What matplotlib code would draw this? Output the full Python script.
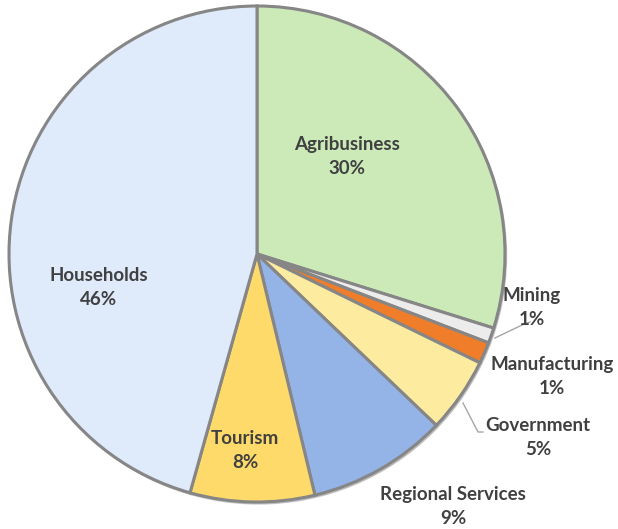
import matplotlib
matplotlib.use("Agg")
import matplotlib.pyplot as plt

# sector shares (%), clockwise from 12 o'clock
sectors = ["Agribusiness", "Mining", "Manufacturing", "Government",
           "Regional Services", "Tourism", "Households"]
shares = [29.8, 1.0, 1.4, 4.9, 9.1, 8.1, 45.6]
colors = ["#cbeab8", "#ececec", "#f07d2a", "#fdeba0",
          "#94b4e8", "#fdda6a", "#dfeafa"]

W, H = 618, 529
cx, cy, R = 257, 254, 248   # pie centre / radius in pixels

fig = plt.figure(figsize=(W / 100, H / 100), dpi=100)
ax = fig.add_axes([0, 0, 1, 1])

# soft shadow ring behind the pie
shadow = plt.Circle((0.006, -0.008), 1.0, color="#9a9a9a", alpha=0.5, zorder=0)
ax.add_patch(shadow)

wedges, _ = ax.pie(shares, colors=colors, startangle=90, counterclock=False,
                   radius=1.0,
                   wedgeprops=dict(edgecolor="#868686", linewidth=2.2))

# pie() resets limits, so fix the pixel mapping afterwards
ax.set_xlim(-cx / R, (W - cx) / R)
ax.set_ylim(-(H - cy) / R, cy / R)
ax.set_aspect("equal")
ax.axis("off")

txt = dict(ha="center", va="center", fontsize=13.5, fontweight="bold",
           color="#404040", family=["Lato", "DejaVu Sans"], linespacing=1.5)

# label positions in pixels (centre of the two-line block)
label_pos = {
    "Agribusiness": (347, 157),
    "Mining": (532, 308),
    "Manufacturing": (552, 377),
    "Government": (538, 438),
    "Regional Services": (453, 507),
    "Tourism": (245, 451),
    "Households": (99, 288),
}

def to_data(px, py):
    return (px - cx) / R, (cy - py) / R

for name, val in zip(sectors, shares):
    x, y = to_data(*label_pos[name])
    ax.text(x, y, f"{name}\n{round(val):.0f}%", **txt)

# leader lines (pixels)
leaders = [
    [(530, 322), (522, 325), (495, 338)],
    [(483, 432), (478, 432), (463, 403)],
]
for pts in leaders:
    xs, ys = zip(*[to_data(px, py) for px, py in pts])
    ax.plot(xs, ys, color="#a6a6a6", linewidth=1.0)

fig.savefig("out.png", dpi=100, facecolor="white")
